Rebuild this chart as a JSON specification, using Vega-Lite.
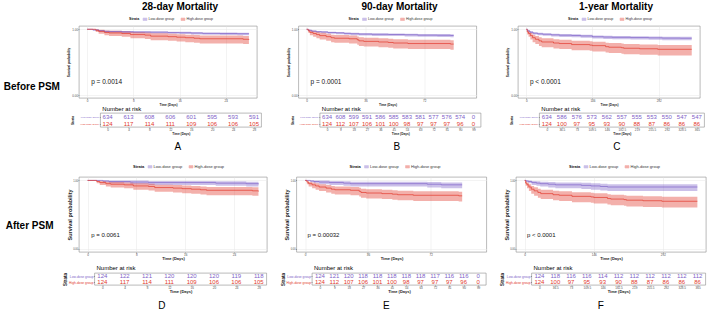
{
  "$schema": "https://vega.github.io/schema/vega-lite/v6.json",
  "background": "white",
  "padding": {"left": 3, "top": 1, "right": 0, "bottom": 0},
  "config": {
    "font": "Liberation Sans",
    "view": {"stroke": "#8c8c8c", "strokeWidth": 0.6},
    "axis": {
      "domain": false, "grid": true, "gridWidth": 0.5, "gridColor": "#e6e6e6",
      "tickColor": "#555555", "tickSize": 1, "tickWidth": 0.5,
      "labelFontSize": 3, "labelColor": "#4d4d4d", "labelPadding": 0.3,
      "labelOverlap": false, "labelFlush": false,
      "titleFontSize": 3.2, "titleFontWeight": "bold", "titlePadding": 0.3, "titleColor": "#222222"
    },
    "legend": {
      "orient": "none", "direction": "horizontal", "titleOrient": "left",
      "titleFontSize": 3.6, "labelFontSize": 3.6, "titleFontWeight": "bold",
      "symbolSize": 6, "symbolType": "M-1.6,-1H1.6V1H-1.6Z", "symbolStrokeWidth": 0.6,
      "columnPadding": 4, "labelOffset": 1.5, "titlePadding": 3, "padding": 0,
      "labelColor": "#333333", "titleColor": "#111111"
    },
    "title": {"font": "Liberation Sans", "color": "#000000"}
  },
  "datasets": {
    "kmA": [
      {"group": "Low-dose group", "t": 0, "surv": 1, "lo": 1, "hi": 1},
      {"group": "Low-dose group", "t": 1, "surv": 0.99, "lo": 0.981, "hi": 0.996},
      {"group": "Low-dose group", "t": 2, "surv": 0.978, "lo": 0.965, "hi": 0.987},
      {"group": "Low-dose group", "t": 3, "surv": 0.968, "lo": 0.952, "hi": 0.979},
      {"group": "Low-dose group", "t": 4, "surv": 0.965, "lo": 0.949, "hi": 0.976},
      {"group": "Low-dose group", "t": 6, "surv": 0.961, "lo": 0.944, "hi": 0.973},
      {"group": "Low-dose group", "t": 8, "surv": 0.958, "lo": 0.94, "hi": 0.97},
      {"group": "Low-dose group", "t": 11, "surv": 0.955, "lo": 0.936, "hi": 0.968},
      {"group": "Low-dose group", "t": 14, "surv": 0.95, "lo": 0.93, "hi": 0.964},
      {"group": "Low-dose group", "t": 16, "surv": 0.947, "lo": 0.927, "hi": 0.961},
      {"group": "Low-dose group", "t": 18, "surv": 0.942, "lo": 0.921, "hi": 0.957},
      {"group": "Low-dose group", "t": 20, "surv": 0.937, "lo": 0.915, "hi": 0.952},
      {"group": "Low-dose group", "t": 23, "surv": 0.935, "lo": 0.913, "hi": 0.95},
      {"group": "Low-dose group", "t": 26, "surv": 0.932, "lo": 0.909, "hi": 0.948},
      {"group": "Low-dose group", "t": 28, "surv": 0.93, "lo": 0.907, "hi": 0.946},
      {"group": "High-dose group", "t": 0, "surv": 1, "lo": 1, "hi": 1},
      {"group": "High-dose group", "t": 1.5, "surv": 0.984, "lo": 0.959, "hi": 1},
      {"group": "High-dose group", "t": 2, "surv": 0.968, "lo": 0.932, "hi": 0.993},
      {"group": "High-dose group", "t": 3, "surv": 0.952, "lo": 0.909, "hi": 0.982},
      {"group": "High-dose group", "t": 3.8, "surv": 0.944, "lo": 0.897, "hi": 0.976},
      {"group": "High-dose group", "t": 6, "surv": 0.935, "lo": 0.885, "hi": 0.97},
      {"group": "High-dose group", "t": 7.5, "surv": 0.919, "lo": 0.864, "hi": 0.957},
      {"group": "High-dose group", "t": 10, "surv": 0.911, "lo": 0.853, "hi": 0.951},
      {"group": "High-dose group", "t": 11, "surv": 0.895, "lo": 0.833, "hi": 0.938},
      {"group": "High-dose group", "t": 14, "surv": 0.887, "lo": 0.823, "hi": 0.932},
      {"group": "High-dose group", "t": 15.5, "surv": 0.879, "lo": 0.813, "hi": 0.925},
      {"group": "High-dose group", "t": 17, "surv": 0.871, "lo": 0.803, "hi": 0.918},
      {"group": "High-dose group", "t": 18.5, "surv": 0.863, "lo": 0.793, "hi": 0.911},
      {"group": "High-dose group", "t": 19.5, "surv": 0.855, "lo": 0.784, "hi": 0.905},
      {"group": "High-dose group", "t": 27, "surv": 0.847, "lo": 0.774, "hi": 0.898},
      {"group": "High-dose group", "t": 28, "surv": 0.839, "lo": 0.765, "hi": 0.891}
    ],
    "kmB": [
      {"group": "Low-dose group", "t": 0, "surv": 1, "lo": 1, "hi": 1},
      {"group": "Low-dose group", "t": 1, "surv": 0.985, "lo": 0.974, "hi": 0.993},
      {"group": "Low-dose group", "t": 3, "surv": 0.972, "lo": 0.957, "hi": 0.982},
      {"group": "Low-dose group", "t": 6, "surv": 0.963, "lo": 0.946, "hi": 0.975},
      {"group": "Low-dose group", "t": 9, "surv": 0.959, "lo": 0.941, "hi": 0.971},
      {"group": "Low-dose group", "t": 13, "surv": 0.95, "lo": 0.93, "hi": 0.964},
      {"group": "Low-dose group", "t": 18, "surv": 0.945, "lo": 0.925, "hi": 0.959},
      {"group": "Low-dose group", "t": 23, "surv": 0.937, "lo": 0.915, "hi": 0.952},
      {"group": "Low-dose group", "t": 27, "surv": 0.932, "lo": 0.909, "hi": 0.948},
      {"group": "Low-dose group", "t": 32, "surv": 0.926, "lo": 0.903, "hi": 0.942},
      {"group": "Low-dose group", "t": 40, "surv": 0.923, "lo": 0.899, "hi": 0.94},
      {"group": "Low-dose group", "t": 50, "surv": 0.92, "lo": 0.896, "hi": 0.937},
      {"group": "Low-dose group", "t": 60, "surv": 0.916, "lo": 0.891, "hi": 0.933},
      {"group": "Low-dose group", "t": 68, "surv": 0.91, "lo": 0.884, "hi": 0.928},
      {"group": "Low-dose group", "t": 80, "surv": 0.908, "lo": 0.882, "hi": 0.926},
      {"group": "Low-dose group", "t": 88, "surv": 0.905, "lo": 0.879, "hi": 0.923},
      {"group": "Low-dose group", "t": 90, "surv": 0.905, "lo": 0.879, "hi": 0.923},
      {"group": "High-dose group", "t": 0, "surv": 1, "lo": 1, "hi": 1},
      {"group": "High-dose group", "t": 1, "surv": 0.976, "lo": 0.945, "hi": 0.997},
      {"group": "High-dose group", "t": 2, "surv": 0.952, "lo": 0.909, "hi": 0.982},
      {"group": "High-dose group", "t": 4, "surv": 0.935, "lo": 0.885, "hi": 0.97},
      {"group": "High-dose group", "t": 6, "surv": 0.919, "lo": 0.864, "hi": 0.957},
      {"group": "High-dose group", "t": 8, "surv": 0.903, "lo": 0.843, "hi": 0.945},
      {"group": "High-dose group", "t": 12, "surv": 0.887, "lo": 0.823, "hi": 0.932},
      {"group": "High-dose group", "t": 15, "surv": 0.871, "lo": 0.803, "hi": 0.918},
      {"group": "High-dose group", "t": 17, "surv": 0.863, "lo": 0.793, "hi": 0.911},
      {"group": "High-dose group", "t": 26, "surv": 0.855, "lo": 0.784, "hi": 0.905},
      {"group": "High-dose group", "t": 31, "surv": 0.839, "lo": 0.765, "hi": 0.891},
      {"group": "High-dose group", "t": 32, "surv": 0.823, "lo": 0.746, "hi": 0.877},
      {"group": "High-dose group", "t": 35, "surv": 0.815, "lo": 0.736, "hi": 0.87},
      {"group": "High-dose group", "t": 44, "surv": 0.806, "lo": 0.726, "hi": 0.862},
      {"group": "High-dose group", "t": 50, "surv": 0.798, "lo": 0.717, "hi": 0.855},
      {"group": "High-dose group", "t": 53, "surv": 0.79, "lo": 0.708, "hi": 0.847},
      {"group": "High-dose group", "t": 62, "surv": 0.782, "lo": 0.698, "hi": 0.84},
      {"group": "High-dose group", "t": 88, "surv": 0.774, "lo": 0.689, "hi": 0.833},
      {"group": "High-dose group", "t": 90, "surv": 0.774, "lo": 0.689, "hi": 0.833}
    ],
    "kmC": [
      {"group": "Low-dose group", "t": 0, "surv": 1, "lo": 1, "hi": 1},
      {"group": "Low-dose group", "t": 3, "surv": 0.975, "lo": 0.961, "hi": 0.985},
      {"group": "Low-dose group", "t": 8, "surv": 0.955, "lo": 0.936, "hi": 0.968},
      {"group": "Low-dose group", "t": 15, "surv": 0.94, "lo": 0.919, "hi": 0.955},
      {"group": "Low-dose group", "t": 25, "surv": 0.93, "lo": 0.907, "hi": 0.946},
      {"group": "Low-dose group", "t": 36.5, "surv": 0.924, "lo": 0.9, "hi": 0.94},
      {"group": "Low-dose group", "t": 55, "surv": 0.915, "lo": 0.89, "hi": 0.932},
      {"group": "Low-dose group", "t": 73, "surv": 0.909, "lo": 0.883, "hi": 0.927},
      {"group": "Low-dose group", "t": 100, "surv": 0.905, "lo": 0.879, "hi": 0.923},
      {"group": "Low-dose group", "t": 120, "surv": 0.898, "lo": 0.871, "hi": 0.917},
      {"group": "Low-dose group", "t": 146, "surv": 0.886, "lo": 0.858, "hi": 0.906},
      {"group": "Low-dose group", "t": 170, "surv": 0.881, "lo": 0.852, "hi": 0.901},
      {"group": "Low-dose group", "t": 190, "surv": 0.877, "lo": 0.848, "hi": 0.897},
      {"group": "Low-dose group", "t": 230, "surv": 0.873, "lo": 0.843, "hi": 0.894},
      {"group": "Low-dose group", "t": 270, "surv": 0.869, "lo": 0.839, "hi": 0.89},
      {"group": "Low-dose group", "t": 300, "surv": 0.865, "lo": 0.834, "hi": 0.886},
      {"group": "Low-dose group", "t": 340, "surv": 0.863, "lo": 0.832, "hi": 0.884},
      {"group": "Low-dose group", "t": 365, "surv": 0.863, "lo": 0.832, "hi": 0.884},
      {"group": "High-dose group", "t": 0, "surv": 1, "lo": 1, "hi": 1},
      {"group": "High-dose group", "t": 2, "surv": 0.96, "lo": 0.92, "hi": 0.988},
      {"group": "High-dose group", "t": 5, "surv": 0.935, "lo": 0.885, "hi": 0.97},
      {"group": "High-dose group", "t": 9, "surv": 0.903, "lo": 0.843, "hi": 0.945},
      {"group": "High-dose group", "t": 14, "surv": 0.871, "lo": 0.803, "hi": 0.918},
      {"group": "High-dose group", "t": 20, "surv": 0.847, "lo": 0.774, "hi": 0.898},
      {"group": "High-dose group", "t": 28, "surv": 0.823, "lo": 0.746, "hi": 0.877},
      {"group": "High-dose group", "t": 34, "surv": 0.806, "lo": 0.726, "hi": 0.862},
      {"group": "High-dose group", "t": 60, "surv": 0.79, "lo": 0.708, "hi": 0.847},
      {"group": "High-dose group", "t": 73, "surv": 0.782, "lo": 0.698, "hi": 0.84},
      {"group": "High-dose group", "t": 100, "surv": 0.766, "lo": 0.68, "hi": 0.826},
      {"group": "High-dose group", "t": 140, "surv": 0.758, "lo": 0.671, "hi": 0.818},
      {"group": "High-dose group", "t": 146, "surv": 0.75, "lo": 0.662, "hi": 0.811},
      {"group": "High-dose group", "t": 175, "surv": 0.734, "lo": 0.645, "hi": 0.796},
      {"group": "High-dose group", "t": 182, "surv": 0.726, "lo": 0.636, "hi": 0.789},
      {"group": "High-dose group", "t": 210, "surv": 0.718, "lo": 0.627, "hi": 0.781},
      {"group": "High-dose group", "t": 215, "surv": 0.71, "lo": 0.618, "hi": 0.774},
      {"group": "High-dose group", "t": 250, "surv": 0.702, "lo": 0.609, "hi": 0.766},
      {"group": "High-dose group", "t": 290, "surv": 0.694, "lo": 0.601, "hi": 0.759},
      {"group": "High-dose group", "t": 365, "surv": 0.694, "lo": 0.601, "hi": 0.759}
    ],
    "kmD": [
      {"group": "Low-dose group", "t": 0, "surv": 1, "lo": 1, "hi": 1},
      {"group": "Low-dose group", "t": 2.5, "surv": 0.992, "lo": 0.974, "hi": 1},
      {"group": "Low-dose group", "t": 3.5, "surv": 0.984, "lo": 0.959, "hi": 1},
      {"group": "Low-dose group", "t": 7, "surv": 0.976, "lo": 0.945, "hi": 0.997},
      {"group": "Low-dose group", "t": 10, "surv": 0.968, "lo": 0.932, "hi": 0.993},
      {"group": "Low-dose group", "t": 21, "surv": 0.96, "lo": 0.92, "hi": 0.988},
      {"group": "Low-dose group", "t": 26, "surv": 0.952, "lo": 0.909, "hi": 0.982},
      {"group": "Low-dose group", "t": 28, "surv": 0.944, "lo": 0.897, "hi": 0.976},
      {"group": "High-dose group", "t": 0, "surv": 1, "lo": 1, "hi": 1},
      {"group": "High-dose group", "t": 1.5, "surv": 0.984, "lo": 0.959, "hi": 1},
      {"group": "High-dose group", "t": 2, "surv": 0.968, "lo": 0.932, "hi": 0.993},
      {"group": "High-dose group", "t": 3, "surv": 0.952, "lo": 0.909, "hi": 0.982},
      {"group": "High-dose group", "t": 3.8, "surv": 0.944, "lo": 0.897, "hi": 0.976},
      {"group": "High-dose group", "t": 6, "surv": 0.935, "lo": 0.885, "hi": 0.97},
      {"group": "High-dose group", "t": 7.5, "surv": 0.919, "lo": 0.864, "hi": 0.957},
      {"group": "High-dose group", "t": 10, "surv": 0.911, "lo": 0.853, "hi": 0.951},
      {"group": "High-dose group", "t": 11, "surv": 0.895, "lo": 0.833, "hi": 0.938},
      {"group": "High-dose group", "t": 14, "surv": 0.887, "lo": 0.823, "hi": 0.932},
      {"group": "High-dose group", "t": 15.5, "surv": 0.879, "lo": 0.813, "hi": 0.925},
      {"group": "High-dose group", "t": 17, "surv": 0.871, "lo": 0.803, "hi": 0.918},
      {"group": "High-dose group", "t": 18.5, "surv": 0.863, "lo": 0.793, "hi": 0.911},
      {"group": "High-dose group", "t": 19.5, "surv": 0.855, "lo": 0.784, "hi": 0.905},
      {"group": "High-dose group", "t": 27, "surv": 0.847, "lo": 0.774, "hi": 0.898},
      {"group": "High-dose group", "t": 28, "surv": 0.839, "lo": 0.765, "hi": 0.891}
    ],
    "kmE": [
      {"group": "Low-dose group", "t": 0, "surv": 1, "lo": 1, "hi": 1},
      {"group": "Low-dose group", "t": 3, "surv": 0.992, "lo": 0.974, "hi": 1},
      {"group": "Low-dose group", "t": 5, "surv": 0.984, "lo": 0.959, "hi": 1},
      {"group": "Low-dose group", "t": 8, "surv": 0.976, "lo": 0.945, "hi": 0.997},
      {"group": "Low-dose group", "t": 14, "surv": 0.968, "lo": 0.932, "hi": 0.993},
      {"group": "Low-dose group", "t": 22, "surv": 0.96, "lo": 0.92, "hi": 0.988},
      {"group": "Low-dose group", "t": 26, "surv": 0.952, "lo": 0.909, "hi": 0.982},
      {"group": "Low-dose group", "t": 70, "surv": 0.944, "lo": 0.897, "hi": 0.976},
      {"group": "Low-dose group", "t": 78, "surv": 0.935, "lo": 0.885, "hi": 0.97},
      {"group": "Low-dose group", "t": 90, "surv": 0.935, "lo": 0.885, "hi": 0.97},
      {"group": "High-dose group", "t": 0, "surv": 1, "lo": 1, "hi": 1},
      {"group": "High-dose group", "t": 1, "surv": 0.976, "lo": 0.945, "hi": 0.997},
      {"group": "High-dose group", "t": 2, "surv": 0.952, "lo": 0.909, "hi": 0.982},
      {"group": "High-dose group", "t": 4, "surv": 0.935, "lo": 0.885, "hi": 0.97},
      {"group": "High-dose group", "t": 6, "surv": 0.919, "lo": 0.864, "hi": 0.957},
      {"group": "High-dose group", "t": 8, "surv": 0.903, "lo": 0.843, "hi": 0.945},
      {"group": "High-dose group", "t": 12, "surv": 0.887, "lo": 0.823, "hi": 0.932},
      {"group": "High-dose group", "t": 15, "surv": 0.871, "lo": 0.803, "hi": 0.918},
      {"group": "High-dose group", "t": 17, "surv": 0.863, "lo": 0.793, "hi": 0.911},
      {"group": "High-dose group", "t": 26, "surv": 0.855, "lo": 0.784, "hi": 0.905},
      {"group": "High-dose group", "t": 31, "surv": 0.839, "lo": 0.765, "hi": 0.891},
      {"group": "High-dose group", "t": 32, "surv": 0.823, "lo": 0.746, "hi": 0.877},
      {"group": "High-dose group", "t": 35, "surv": 0.815, "lo": 0.736, "hi": 0.87},
      {"group": "High-dose group", "t": 44, "surv": 0.806, "lo": 0.726, "hi": 0.862},
      {"group": "High-dose group", "t": 50, "surv": 0.798, "lo": 0.717, "hi": 0.855},
      {"group": "High-dose group", "t": 53, "surv": 0.79, "lo": 0.708, "hi": 0.847},
      {"group": "High-dose group", "t": 62, "surv": 0.782, "lo": 0.698, "hi": 0.84},
      {"group": "High-dose group", "t": 88, "surv": 0.774, "lo": 0.689, "hi": 0.833},
      {"group": "High-dose group", "t": 90, "surv": 0.774, "lo": 0.689, "hi": 0.833}
    ],
    "kmF": [
      {"group": "Low-dose group", "t": 0, "surv": 1, "lo": 1, "hi": 1},
      {"group": "Low-dose group", "t": 3, "surv": 0.992, "lo": 0.974, "hi": 1},
      {"group": "Low-dose group", "t": 8, "surv": 0.984, "lo": 0.959, "hi": 1},
      {"group": "Low-dose group", "t": 15, "surv": 0.968, "lo": 0.932, "hi": 0.993},
      {"group": "Low-dose group", "t": 25, "surv": 0.96, "lo": 0.92, "hi": 0.988},
      {"group": "Low-dose group", "t": 33, "surv": 0.952, "lo": 0.909, "hi": 0.982},
      {"group": "Low-dose group", "t": 50, "surv": 0.944, "lo": 0.897, "hi": 0.976},
      {"group": "Low-dose group", "t": 65, "surv": 0.935, "lo": 0.885, "hi": 0.97},
      {"group": "Low-dose group", "t": 120, "surv": 0.927, "lo": 0.874, "hi": 0.964},
      {"group": "Low-dose group", "t": 140, "surv": 0.919, "lo": 0.864, "hi": 0.957},
      {"group": "Low-dose group", "t": 160, "surv": 0.911, "lo": 0.853, "hi": 0.951},
      {"group": "Low-dose group", "t": 175, "surv": 0.903, "lo": 0.843, "hi": 0.945},
      {"group": "Low-dose group", "t": 365, "surv": 0.903, "lo": 0.843, "hi": 0.945},
      {"group": "High-dose group", "t": 0, "surv": 1, "lo": 1, "hi": 1},
      {"group": "High-dose group", "t": 2, "surv": 0.96, "lo": 0.92, "hi": 0.988},
      {"group": "High-dose group", "t": 5, "surv": 0.935, "lo": 0.885, "hi": 0.97},
      {"group": "High-dose group", "t": 9, "surv": 0.903, "lo": 0.843, "hi": 0.945},
      {"group": "High-dose group", "t": 14, "surv": 0.871, "lo": 0.803, "hi": 0.918},
      {"group": "High-dose group", "t": 20, "surv": 0.847, "lo": 0.774, "hi": 0.898},
      {"group": "High-dose group", "t": 28, "surv": 0.823, "lo": 0.746, "hi": 0.877},
      {"group": "High-dose group", "t": 34, "surv": 0.806, "lo": 0.726, "hi": 0.862},
      {"group": "High-dose group", "t": 60, "surv": 0.79, "lo": 0.708, "hi": 0.847},
      {"group": "High-dose group", "t": 73, "surv": 0.782, "lo": 0.698, "hi": 0.84},
      {"group": "High-dose group", "t": 100, "surv": 0.766, "lo": 0.68, "hi": 0.826},
      {"group": "High-dose group", "t": 140, "surv": 0.758, "lo": 0.671, "hi": 0.818},
      {"group": "High-dose group", "t": 146, "surv": 0.75, "lo": 0.662, "hi": 0.811},
      {"group": "High-dose group", "t": 175, "surv": 0.734, "lo": 0.645, "hi": 0.796},
      {"group": "High-dose group", "t": 182, "surv": 0.726, "lo": 0.636, "hi": 0.789},
      {"group": "High-dose group", "t": 210, "surv": 0.718, "lo": 0.627, "hi": 0.781},
      {"group": "High-dose group", "t": 215, "surv": 0.71, "lo": 0.618, "hi": 0.774},
      {"group": "High-dose group", "t": 250, "surv": 0.702, "lo": 0.609, "hi": 0.766},
      {"group": "High-dose group", "t": 290, "surv": 0.694, "lo": 0.601, "hi": 0.759},
      {"group": "High-dose group", "t": 365, "surv": 0.694, "lo": 0.601, "hi": 0.759}
    ],
    "riskA": [
      {"t": 0, "Low-dose group": 634, "High-dose group": 124},
      {"t": 4, "Low-dose group": 613, "High-dose group": 117},
      {"t": 8, "Low-dose group": 608, "High-dose group": 114},
      {"t": 12, "Low-dose group": 606, "High-dose group": 111},
      {"t": 16, "Low-dose group": 601, "High-dose group": 109},
      {"t": 20, "Low-dose group": 595, "High-dose group": 106},
      {"t": 24, "Low-dose group": 593, "High-dose group": 106},
      {"t": 28, "Low-dose group": 591, "High-dose group": 105}
    ],
    "riskB": [
      {"t": 0, "Low-dose group": 634, "High-dose group": 124},
      {"t": 9, "Low-dose group": 608, "High-dose group": 112},
      {"t": 18, "Low-dose group": 599, "High-dose group": 107},
      {"t": 27, "Low-dose group": 591, "High-dose group": 106},
      {"t": 36, "Low-dose group": 586, "High-dose group": 101},
      {"t": 45, "Low-dose group": 585, "High-dose group": 100},
      {"t": 54, "Low-dose group": 583, "High-dose group": 98},
      {"t": 63, "Low-dose group": 581, "High-dose group": 97},
      {"t": 72, "Low-dose group": 577, "High-dose group": 97},
      {"t": 81, "Low-dose group": 576, "High-dose group": 97},
      {"t": 90, "Low-dose group": 574, "High-dose group": 96},
      {"t": 99, "Low-dose group": 0, "High-dose group": 0}
    ],
    "riskC": [
      {"t": 0, "Low-dose group": 634, "High-dose group": 124},
      {"t": 36.5, "Low-dose group": 586, "High-dose group": 100},
      {"t": 73, "Low-dose group": 576, "High-dose group": 97},
      {"t": 109.5, "Low-dose group": 573, "High-dose group": 95},
      {"t": 146, "Low-dose group": 562, "High-dose group": 93},
      {"t": 182.5, "Low-dose group": 557, "High-dose group": 90},
      {"t": 219, "Low-dose group": 555, "High-dose group": 88},
      {"t": 255.5, "Low-dose group": 553, "High-dose group": 87},
      {"t": 292, "Low-dose group": 550, "High-dose group": 86},
      {"t": 328.5, "Low-dose group": 547, "High-dose group": 86},
      {"t": 365, "Low-dose group": 547, "High-dose group": 86}
    ],
    "riskD": [
      {"t": 0, "Low-dose group": 124, "High-dose group": 124},
      {"t": 4, "Low-dose group": 122, "High-dose group": 117},
      {"t": 8, "Low-dose group": 121, "High-dose group": 114},
      {"t": 12, "Low-dose group": 120, "High-dose group": 111},
      {"t": 16, "Low-dose group": 120, "High-dose group": 109},
      {"t": 20, "Low-dose group": 120, "High-dose group": 106},
      {"t": 24, "Low-dose group": 119, "High-dose group": 106},
      {"t": 28, "Low-dose group": 118, "High-dose group": 105}
    ],
    "riskE": [
      {"t": 0, "Low-dose group": 124, "High-dose group": 124},
      {"t": 9, "Low-dose group": 121, "High-dose group": 112},
      {"t": 18, "Low-dose group": 120, "High-dose group": 107},
      {"t": 27, "Low-dose group": 118, "High-dose group": 106},
      {"t": 36, "Low-dose group": 118, "High-dose group": 101},
      {"t": 45, "Low-dose group": 118, "High-dose group": 100},
      {"t": 54, "Low-dose group": 118, "High-dose group": 98},
      {"t": 63, "Low-dose group": 118, "High-dose group": 97},
      {"t": 72, "Low-dose group": 117, "High-dose group": 97},
      {"t": 81, "Low-dose group": 116, "High-dose group": 97},
      {"t": 90, "Low-dose group": 116, "High-dose group": 96},
      {"t": 99, "Low-dose group": 0, "High-dose group": 0}
    ],
    "riskF": [
      {"t": 0, "Low-dose group": 124, "High-dose group": 124},
      {"t": 36.5, "Low-dose group": 118, "High-dose group": 100},
      {"t": 73, "Low-dose group": 116, "High-dose group": 97},
      {"t": 109.5, "Low-dose group": 116, "High-dose group": 95},
      {"t": 146, "Low-dose group": 114, "High-dose group": 93},
      {"t": 182.5, "Low-dose group": 112, "High-dose group": 90},
      {"t": 219, "Low-dose group": 112, "High-dose group": 88},
      {"t": 255.5, "Low-dose group": 112, "High-dose group": 87},
      {"t": 292, "Low-dose group": 112, "High-dose group": 86},
      {"t": 328.5, "Low-dose group": 112, "High-dose group": 86},
      {"t": 365, "Low-dose group": 112, "High-dose group": 86}
    ]
  },
  "spacing": 11,
  "resolve": {"scale": {"color": "independent"}, "legend": {"color": "independent"}},
  "vconcat": [
    {
      "title": {"text": "Before PSM", "orient": "left", "angle": 0, "align": "left", "baseline": "middle", "anchor": "middle", "fontSize": 10, "fontWeight": "bold", "offset": 6.3, "dy": 10},
      "spacing": 23.5,
      "resolve": {"scale": {"color": "independent"}, "legend": {"color": "independent"}},
      "hconcat": [
        {
          "title": {"text": "A", "orient": "bottom", "anchor": "middle", "fontSize": 10, "fontWeight": "normal", "offset": 7, "dx": 14},
          "spacing": -2,
          "resolve": {"scale": {"color": "independent"}, "legend": {"color": "independent"}},
          "vconcat": [
            {
              "width": 178, "height": 72,
              "title": {"text": "28-day Mortality", "fontSize": 10, "fontWeight": "bold", "offset": 5, "frame": "group", "dx": 12},
              "data": {"name": "kmA"},
              "layer": [
                {
                  "mark": {"type": "area", "interpolate": "step-after", "opacity": 0.4},
                  "encoding": {
                    "x": {"field": "t", "type": "quantitative", "scale": {"domain": [-1.4, 29.4], "nice": false, "zero": false},
                          "axis": {"title": "Time (Days)", "values": [0, 2, 4, 6, 8, 10, 12, 14, 16, 18, 20, 22, 24, 26, 28],
                                   "labelExpr": "datum.value % 4 ? '' : format(datum.value, '~g')",
                                   "tickOpacity": {"condition": {"test": "datum.value % 4", "value": 0}, "value": 1},
                                   "gridColor": {"condition": {"test": "datum.value % 4", "value": "#f4f4f4"}, "value": "#e6e6e6"}}},
                    "y": {"field": "lo", "type": "quantitative", "scale": {"domain": [-0.05, 1.05], "nice": false, "zero": false},
                          "axis": {"title": "Survival probability", "minExtent": 8, "maxExtent": 8, "titlePadding": 0.5,
                                   "values": [0, 0.125, 0.25, 0.375, 0.5, 0.625, 0.75, 0.875, 1],
                                   "labelExpr": "datum.value % 0.25 ? '' : format(datum.value, '.2f')",
                                   "tickOpacity": {"condition": {"test": "datum.value % 0.25", "value": 0}, "value": 1},
                                   "gridColor": {"condition": {"test": "datum.value % 0.25", "value": "#f4f4f4"}, "value": "#e6e6e6"}}},
                    "y2": {"field": "hi"},
                    "color": {"field": "group", "type": "nominal",
                              "scale": {"domain": ["Low-dose group", "High-dose group"], "range": ["#7E62C8", "#E2392D"]},
                              "legend": {"title": "Strata", "legendX": 50, "legendY": -9}}
                  }
                },
                {
                  "mark": {"type": "line", "interpolate": "step-after", "strokeWidth": 0.7},
                  "encoding": {
                    "x": {"field": "t", "type": "quantitative"},
                    "y": {"field": "surv", "type": "quantitative"},
                    "color": {"field": "group", "type": "nominal"}
                  }
                },
                {
                  "data": {"values": [{"t": 0.7, "surv": 0.2, "label": "p = 0.0014"}]},
                  "mark": {"type": "text", "align": "left", "baseline": "middle", "fontSize": 6.5, "color": "#111111"},
                  "encoding": {
                    "x": {"field": "t", "type": "quantitative"},
                    "y": {"field": "surv", "type": "quantitative"},
                    "text": {"field": "label"}
                  }
                }
              ]
            },
            {
              "spacing": -9.7,
              "hconcat": [
                {"width": 1, "height": 14, "view": {"stroke": null}, "data": {"values": []}, "mark": "point", "encoding": {}},
                {
                  "width": 161, "height": 14,
                  "title": {"text": "Number at risk", "anchor": "start", "frame": "group", "fontSize": 6, "fontWeight": "normal", "offset": 1, "dx": 2},
                  "data": {"name": "riskA"},
                  "transform": [{"fold": ["Low-dose group", "High-dose group"], "as": ["group", "n"]}],
                  "mark": {"type": "text", "fontSize": 6},
                  "encoding": {
                    "x": {"field": "t", "type": "quantitative", "scale": {"domain": [-1.4, 29.4], "nice": false, "zero": false},
                          "axis": {"title": "Time (Days)", "grid": false, "values": [0, 4, 8, 12, 16, 20, 24, 28], "labelExpr": "format(datum.value, '~g')"}},
                    "y": {"field": "group", "type": "nominal", "sort": ["Low-dose group", "High-dose group"],
                          "axis": {"title": "Strata", "grid": false, "labelFontSize": 2.5, "labelPadding": 1, "titlePadding": 1.5, "minExtent": 24, "maxExtent": 24,
                                   "labelColor": {"condition": {"test": "datum.value === 'Low-dose group'", "value": "#7E62C8"}, "value": "#E2392D"}}},
                    "text": {"field": "n", "type": "quantitative"},
                    "color": {"field": "group", "type": "nominal", "legend": null,
                              "scale": {"domain": ["Low-dose group", "High-dose group"], "range": ["#7E62C8", "#E2392D"]}}
                  }
                }
              ]
            }
          ]
        },
        {
          "title": {"text": "B", "orient": "bottom", "anchor": "middle", "fontSize": 10, "fontWeight": "normal", "offset": 7, "dx": 13.5},
          "spacing": -2,
          "resolve": {"scale": {"color": "independent"}, "legend": {"color": "independent"}},
          "vconcat": [
            {
              "width": 178, "height": 72,
              "title": {"text": "90-day Mortality", "fontSize": 10, "fontWeight": "bold", "offset": 5, "frame": "group", "dx": 12},
              "data": {"name": "kmB"},
              "layer": [
                {
                  "mark": {"type": "area", "interpolate": "step-after", "opacity": 0.4},
                  "encoding": {
                    "x": {"field": "t", "type": "quantitative", "scale": {"domain": [-4.95, 103.95], "nice": false, "zero": false},
                          "axis": {"title": "Time (Days)", "values": [0, 4.5, 9, 13.5, 18, 22.5, 27, 31.5, 36, 40.5, 45, 49.5, 54, 58.5, 63, 67.5, 72, 76.5, 81, 85.5, 90, 94.5, 99],
                                   "labelExpr": "datum.value % 9 ? '' : format(datum.value, '~g')",
                                   "tickOpacity": {"condition": {"test": "datum.value % 9", "value": 0}, "value": 1},
                                   "gridColor": {"condition": {"test": "datum.value % 9", "value": "#f4f4f4"}, "value": "#e6e6e6"}}},
                    "y": {"field": "lo", "type": "quantitative", "scale": {"domain": [-0.05, 1.05], "nice": false, "zero": false},
                          "axis": {"title": "Survival probability", "minExtent": 8, "maxExtent": 8, "titlePadding": 0.5,
                                   "values": [0, 0.125, 0.25, 0.375, 0.5, 0.625, 0.75, 0.875, 1],
                                   "labelExpr": "datum.value % 0.25 ? '' : format(datum.value, '.2f')",
                                   "tickOpacity": {"condition": {"test": "datum.value % 0.25", "value": 0}, "value": 1},
                                   "gridColor": {"condition": {"test": "datum.value % 0.25", "value": "#f4f4f4"}, "value": "#e6e6e6"}}},
                    "y2": {"field": "hi"},
                    "color": {"field": "group", "type": "nominal",
                              "scale": {"domain": ["Low-dose group", "High-dose group"], "range": ["#7E62C8", "#E2392D"]},
                              "legend": {"title": "Strata", "legendX": 50, "legendY": -9}}
                  }
                },
                {
                  "mark": {"type": "line", "interpolate": "step-after", "strokeWidth": 0.7},
                  "encoding": {
                    "x": {"field": "t", "type": "quantitative"},
                    "y": {"field": "surv", "type": "quantitative"},
                    "color": {"field": "group", "type": "nominal"}
                  }
                },
                {
                  "data": {"values": [{"t": 2.4, "surv": 0.2, "label": "p = 0.0001"}]},
                  "mark": {"type": "text", "align": "left", "baseline": "middle", "fontSize": 6.5, "color": "#111111"},
                  "encoding": {
                    "x": {"field": "t", "type": "quantitative"},
                    "y": {"field": "surv", "type": "quantitative"},
                    "text": {"field": "label"}
                  }
                }
              ]
            },
            {
              "spacing": -9.7,
              "hconcat": [
                {"width": 1, "height": 14, "view": {"stroke": null}, "data": {"values": []}, "mark": "point", "encoding": {}},
                {
                  "width": 161, "height": 14,
                  "title": {"text": "Number at risk", "anchor": "start", "frame": "group", "fontSize": 6, "fontWeight": "normal", "offset": 1, "dx": 2},
                  "data": {"name": "riskB"},
                  "transform": [{"fold": ["Low-dose group", "High-dose group"], "as": ["group", "n"]}],
                  "mark": {"type": "text", "fontSize": 6},
                  "encoding": {
                    "x": {"field": "t", "type": "quantitative", "scale": {"domain": [-4.95, 103.95], "nice": false, "zero": false},
                          "axis": {"title": "Time (Days)", "grid": false, "values": [0, 9, 18, 27, 36, 45, 54, 63, 72, 81, 90, 99], "labelExpr": "format(datum.value, '~g')"}},
                    "y": {"field": "group", "type": "nominal", "sort": ["Low-dose group", "High-dose group"],
                          "axis": {"title": "Strata", "grid": false, "labelFontSize": 2.5, "labelPadding": 1, "titlePadding": 1.5, "minExtent": 24, "maxExtent": 24,
                                   "labelColor": {"condition": {"test": "datum.value === 'Low-dose group'", "value": "#7E62C8"}, "value": "#E2392D"}}},
                    "text": {"field": "n", "type": "quantitative"},
                    "color": {"field": "group", "type": "nominal", "legend": null,
                              "scale": {"domain": ["Low-dose group", "High-dose group"], "range": ["#7E62C8", "#E2392D"]}}
                  }
                }
              ]
            }
          ]
        },
        {
          "title": {"text": "C", "orient": "bottom", "anchor": "middle", "fontSize": 10, "fontWeight": "normal", "offset": 7, "dx": 12},
          "spacing": -2,
          "resolve": {"scale": {"color": "independent"}, "legend": {"color": "independent"}},
          "vconcat": [
            {
              "width": 182, "height": 72,
              "title": {"text": "1-year Mortality", "fontSize": 10, "fontWeight": "bold", "offset": 5, "frame": "group", "dx": 7},
              "data": {"name": "kmC"},
              "layer": [
                {
                  "mark": {"type": "area", "interpolate": "step-after", "opacity": 0.4},
                  "encoding": {
                    "x": {"field": "t", "type": "quantitative", "scale": {"domain": [-18.25, 383.25], "nice": false, "zero": false},
                          "axis": {"title": "Time (Days)", "values": [0, 18.25, 36.5, 54.75, 73, 91.25, 109.5, 127.75, 146, 164.25, 182.5, 200.75, 219, 237.25, 255.5, 273.75, 292, 310.25, 328.5, 346.75, 365],
                                   "labelExpr": "datum.value % 36.5 ? '' : format(datum.value, '~g')",
                                   "tickOpacity": {"condition": {"test": "datum.value % 36.5", "value": 0}, "value": 1},
                                   "gridColor": {"condition": {"test": "datum.value % 36.5", "value": "#f4f4f4"}, "value": "#e6e6e6"}}},
                    "y": {"field": "lo", "type": "quantitative", "scale": {"domain": [-0.05, 1.05], "nice": false, "zero": false},
                          "axis": {"title": "Survival probability", "minExtent": 8, "maxExtent": 8, "titlePadding": 0.5,
                                   "values": [0, 0.125, 0.25, 0.375, 0.5, 0.625, 0.75, 0.875, 1],
                                   "labelExpr": "datum.value % 0.25 ? '' : format(datum.value, '.2f')",
                                   "tickOpacity": {"condition": {"test": "datum.value % 0.25", "value": 0}, "value": 1},
                                   "gridColor": {"condition": {"test": "datum.value % 0.25", "value": "#f4f4f4"}, "value": "#e6e6e6"}}},
                    "y2": {"field": "hi"},
                    "color": {"field": "group", "type": "nominal",
                              "scale": {"domain": ["Low-dose group", "High-dose group"], "range": ["#7E62C8", "#E2392D"]},
                              "legend": {"title": "Strata", "legendX": 50, "legendY": -9}}
                  }
                },
                {
                  "mark": {"type": "line", "interpolate": "step-after", "strokeWidth": 0.7},
                  "encoding": {
                    "x": {"field": "t", "type": "quantitative"},
                    "y": {"field": "surv", "type": "quantitative"},
                    "color": {"field": "group", "type": "nominal"}
                  }
                },
                {
                  "data": {"values": [{"t": 8, "surv": 0.2, "label": "p < 0.0001"}]},
                  "mark": {"type": "text", "align": "left", "baseline": "middle", "fontSize": 6.5, "color": "#111111"},
                  "encoding": {
                    "x": {"field": "t", "type": "quantitative"},
                    "y": {"field": "surv", "type": "quantitative"},
                    "text": {"field": "label"}
                  }
                }
              ]
            },
            {
              "spacing": -9.7,
              "hconcat": [
                {"width": 1, "height": 14, "view": {"stroke": null}, "data": {"values": []}, "mark": "point", "encoding": {}},
                {
                  "width": 165, "height": 14,
                  "title": {"text": "Number at risk", "anchor": "start", "frame": "group", "fontSize": 6, "fontWeight": "normal", "offset": 1, "dx": 2},
                  "data": {"name": "riskC"},
                  "transform": [{"fold": ["Low-dose group", "High-dose group"], "as": ["group", "n"]}],
                  "mark": {"type": "text", "fontSize": 6},
                  "encoding": {
                    "x": {"field": "t", "type": "quantitative", "scale": {"domain": [-18.25, 383.25], "nice": false, "zero": false},
                          "axis": {"title": "Time (Days)", "grid": false, "values": [0, 36.5, 73, 109.5, 146, 182.5, 219, 255.5, 292, 328.5, 365], "labelExpr": "format(datum.value, '~g')"}},
                    "y": {"field": "group", "type": "nominal", "sort": ["Low-dose group", "High-dose group"],
                          "axis": {"title": "Strata", "grid": false, "labelFontSize": 2.5, "labelPadding": 1, "titlePadding": 1.5, "minExtent": 24, "maxExtent": 24,
                                   "labelColor": {"condition": {"test": "datum.value === 'Low-dose group'", "value": "#7E62C8"}, "value": "#E2392D"}}},
                    "text": {"field": "n", "type": "quantitative"},
                    "color": {"field": "group", "type": "nominal", "legend": null,
                              "scale": {"domain": ["Low-dose group", "High-dose group"], "range": ["#7E62C8", "#E2392D"]}}
                  }
                }
              ]
            }
          ]
        }
      ]
    },
    {
      "title": {"text": "After PSM", "orient": "left", "angle": 0, "align": "left", "baseline": "middle", "anchor": "middle", "fontSize": 10, "fontWeight": "bold", "offset": 8.7, "dy": -12},
      "spacing": 11.5,
      "resolve": {"scale": {"color": "independent"}, "legend": {"color": "independent"}},
      "hconcat": [
        {
          "title": {"text": "D", "orient": "bottom", "anchor": "middle", "fontSize": 10, "fontWeight": "normal", "offset": 7, "dx": -3},
          "spacing": 3,
          "resolve": {"scale": {"color": "independent"}, "legend": {"color": "independent"}},
          "vconcat": [
            {
              "width": 188, "height": 75,
              "data": {"name": "kmD"},
              "layer": [
                {
                  "mark": {"type": "area", "interpolate": "step-after", "opacity": 0.4},
                  "encoding": {
                    "x": {"field": "t", "type": "quantitative", "scale": {"domain": [-1.4, 29.4], "nice": false, "zero": false},
                          "axis": {"title": "Time (Days)", "titleFontSize": 4, "values": [0, 2, 4, 6, 8, 10, 12, 14, 16, 18, 20, 22, 24, 26, 28],
                                   "labelExpr": "datum.value % 4 ? '' : format(datum.value, '~g')",
                                   "tickOpacity": {"condition": {"test": "datum.value % 4", "value": 0}, "value": 1},
                                   "gridColor": {"condition": {"test": "datum.value % 4", "value": "#f4f4f4"}, "value": "#e6e6e6"}}},
                    "y": {"field": "lo", "type": "quantitative", "scale": {"domain": [-0.05, 1.05], "nice": false, "zero": false},
                          "axis": {"title": "Survival probability", "titleFontSize": 5.5, "labelFontSize": 2.6, "minExtent": 6.5, "maxExtent": 6.5, "titlePadding": 0.3,
                                   "values": [0, 0.125, 0.25, 0.375, 0.5, 0.625, 0.75, 0.875, 1],
                                   "labelExpr": "datum.value % 0.25 ? '' : format(datum.value, '.2f')",
                                   "tickOpacity": {"condition": {"test": "datum.value % 0.25", "value": 0}, "value": 1},
                                   "gridColor": {"condition": {"test": "datum.value % 0.25", "value": "#f4f4f4"}, "value": "#e6e6e6"}}},
                    "y2": {"field": "hi"},
                    "color": {"field": "group", "type": "nominal",
                              "scale": {"domain": ["Low-dose group", "High-dose group"], "range": ["#7E62C8", "#E2392D"]},
                              "legend": {"title": "Strata", "legendX": 54, "legendY": -12.5, "labelFontSize": 4, "titleFontSize": 4}}
                  }
                },
                {
                  "mark": {"type": "line", "interpolate": "step-after", "strokeWidth": 0.7},
                  "encoding": {
                    "x": {"field": "t", "type": "quantitative"},
                    "y": {"field": "surv", "type": "quantitative"},
                    "color": {"field": "group", "type": "nominal"}
                  }
                },
                {
                  "data": {"values": [{"t": 0.6, "surv": 0.2, "label": "p = 0.0061"}]},
                  "mark": {"type": "text", "align": "left", "baseline": "middle", "fontSize": 6, "color": "#111111"},
                  "encoding": {
                    "x": {"field": "t", "type": "quantitative"},
                    "y": {"field": "surv", "type": "quantitative"},
                    "text": {"field": "label"}
                  }
                }
              ]
            },
            {
              "spacing": -18.5,
              "hconcat": [
                {"width": 1, "height": 12, "view": {"stroke": null}, "data": {"values": []}, "mark": "point", "encoding": {}},
                {
                  "width": 172, "height": 12,
                  "title": {"text": "Number at risk", "anchor": "start", "frame": "group", "fontSize": 6, "fontWeight": "normal", "offset": 1.5, "dx": 2},
                  "data": {"name": "riskD"},
                  "transform": [{"fold": ["Low-dose group", "High-dose group"], "as": ["group", "n"]}],
                  "mark": {"type": "text", "fontSize": 6},
                  "encoding": {
                    "x": {"field": "t", "type": "quantitative", "scale": {"domain": [-1.4, 29.4], "nice": false, "zero": false},
                          "axis": {"title": "Time (Days)", "titleFontSize": 4, "grid": false, "values": [0, 4, 8, 12, 16, 20, 24, 28], "labelExpr": "format(datum.value, '~g')"}},
                    "y": {"field": "group", "type": "nominal", "sort": ["Low-dose group", "High-dose group"],
                          "axis": {"title": "Strata", "titleFontSize": 4.5, "grid": false, "labelFontSize": 3.3, "labelPadding": 0.5, "titlePadding": 1, "minExtent": 26, "maxExtent": 26,
                                   "labelColor": {"condition": {"test": "datum.value === 'Low-dose group'", "value": "#7E62C8"}, "value": "#E2392D"}}},
                    "text": {"field": "n", "type": "quantitative"},
                    "color": {"field": "group", "type": "nominal", "legend": null,
                              "scale": {"domain": ["Low-dose group", "High-dose group"], "range": ["#7E62C8", "#E2392D"]}}
                  }
                }
              ]
            }
          ]
        },
        {
          "title": {"text": "E", "orient": "bottom", "anchor": "middle", "fontSize": 10, "fontWeight": "normal", "offset": 7, "dx": 3},
          "spacing": 3,
          "resolve": {"scale": {"color": "independent"}, "legend": {"color": "independent"}},
          "vconcat": [
            {
              "width": 190, "height": 75,
              "data": {"name": "kmE"},
              "layer": [
                {
                  "mark": {"type": "area", "interpolate": "step-after", "opacity": 0.4},
                  "encoding": {
                    "x": {"field": "t", "type": "quantitative", "scale": {"domain": [-4.95, 103.95], "nice": false, "zero": false},
                          "axis": {"title": "Time (Days)", "titleFontSize": 4, "values": [0, 4.5, 9, 13.5, 18, 22.5, 27, 31.5, 36, 40.5, 45, 49.5, 54, 58.5, 63, 67.5, 72, 76.5, 81, 85.5, 90, 94.5, 99],
                                   "labelExpr": "datum.value % 9 ? '' : format(datum.value, '~g')",
                                   "tickOpacity": {"condition": {"test": "datum.value % 9", "value": 0}, "value": 1},
                                   "gridColor": {"condition": {"test": "datum.value % 9", "value": "#f4f4f4"}, "value": "#e6e6e6"}}},
                    "y": {"field": "lo", "type": "quantitative", "scale": {"domain": [-0.05, 1.05], "nice": false, "zero": false},
                          "axis": {"title": "Survival probability", "titleFontSize": 5.5, "labelFontSize": 2.6, "minExtent": 6.5, "maxExtent": 6.5, "titlePadding": 0.3,
                                   "values": [0, 0.125, 0.25, 0.375, 0.5, 0.625, 0.75, 0.875, 1],
                                   "labelExpr": "datum.value % 0.25 ? '' : format(datum.value, '.2f')",
                                   "tickOpacity": {"condition": {"test": "datum.value % 0.25", "value": 0}, "value": 1},
                                   "gridColor": {"condition": {"test": "datum.value % 0.25", "value": "#f4f4f4"}, "value": "#e6e6e6"}}},
                    "y2": {"field": "hi"},
                    "color": {"field": "group", "type": "nominal",
                              "scale": {"domain": ["Low-dose group", "High-dose group"], "range": ["#7E62C8", "#E2392D"]},
                              "legend": {"title": "Strata", "legendX": 53, "legendY": -12.5, "labelFontSize": 4, "titleFontSize": 4}}
                  }
                },
                {
                  "mark": {"type": "line", "interpolate": "step-after", "strokeWidth": 0.7},
                  "encoding": {
                    "x": {"field": "t", "type": "quantitative"},
                    "y": {"field": "surv", "type": "quantitative"},
                    "color": {"field": "group", "type": "nominal"}
                  }
                },
                {
                  "data": {"values": [{"t": 1.4, "surv": 0.2, "label": "p = 0.00032"}]},
                  "mark": {"type": "text", "align": "left", "baseline": "middle", "fontSize": 6, "color": "#111111"},
                  "encoding": {
                    "x": {"field": "t", "type": "quantitative"},
                    "y": {"field": "surv", "type": "quantitative"},
                    "text": {"field": "label"}
                  }
                }
              ]
            },
            {
              "spacing": -18.5,
              "hconcat": [
                {"width": 1, "height": 12, "view": {"stroke": null}, "data": {"values": []}, "mark": "point", "encoding": {}},
                {
                  "width": 174, "height": 12,
                  "title": {"text": "Number at risk", "anchor": "start", "frame": "group", "fontSize": 6, "fontWeight": "normal", "offset": 1.5, "dx": 2},
                  "data": {"name": "riskE"},
                  "transform": [{"fold": ["Low-dose group", "High-dose group"], "as": ["group", "n"]}],
                  "mark": {"type": "text", "fontSize": 6},
                  "encoding": {
                    "x": {"field": "t", "type": "quantitative", "scale": {"domain": [-4.95, 103.95], "nice": false, "zero": false},
                          "axis": {"title": "Time (Days)", "titleFontSize": 4, "grid": false, "values": [0, 9, 18, 27, 36, 45, 54, 63, 72, 81, 90, 99], "labelExpr": "format(datum.value, '~g')"}},
                    "y": {"field": "group", "type": "nominal", "sort": ["Low-dose group", "High-dose group"],
                          "axis": {"title": "Strata", "titleFontSize": 4.5, "grid": false, "labelFontSize": 3.3, "labelPadding": 0.5, "titlePadding": 1, "minExtent": 26, "maxExtent": 26,
                                   "labelColor": {"condition": {"test": "datum.value === 'Low-dose group'", "value": "#7E62C8"}, "value": "#E2392D"}}},
                    "text": {"field": "n", "type": "quantitative"},
                    "color": {"field": "group", "type": "nominal", "legend": null,
                              "scale": {"domain": ["Low-dose group", "High-dose group"], "range": ["#7E62C8", "#E2392D"]}}
                  }
                }
              ]
            }
          ]
        },
        {
          "title": {"text": "F", "orient": "bottom", "anchor": "middle", "fontSize": 10, "fontWeight": "normal", "offset": 7, "dx": -2},
          "spacing": 3,
          "resolve": {"scale": {"color": "independent"}, "legend": {"color": "independent"}},
          "vconcat": [
            {
              "width": 190, "height": 75,
              "data": {"name": "kmF"},
              "layer": [
                {
                  "mark": {"type": "area", "interpolate": "step-after", "opacity": 0.4},
                  "encoding": {
                    "x": {"field": "t", "type": "quantitative", "scale": {"domain": [-18.25, 383.25], "nice": false, "zero": false},
                          "axis": {"title": "Time (Days)", "titleFontSize": 4, "values": [0, 18.25, 36.5, 54.75, 73, 91.25, 109.5, 127.75, 146, 164.25, 182.5, 200.75, 219, 237.25, 255.5, 273.75, 292, 310.25, 328.5, 346.75, 365],
                                   "labelExpr": "datum.value % 36.5 ? '' : format(datum.value, '~g')",
                                   "tickOpacity": {"condition": {"test": "datum.value % 36.5", "value": 0}, "value": 1},
                                   "gridColor": {"condition": {"test": "datum.value % 36.5", "value": "#f4f4f4"}, "value": "#e6e6e6"}}},
                    "y": {"field": "lo", "type": "quantitative", "scale": {"domain": [-0.05, 1.05], "nice": false, "zero": false},
                          "axis": {"title": "Survival probability", "titleFontSize": 5.5, "labelFontSize": 2.6, "minExtent": 6.5, "maxExtent": 6.5, "titlePadding": 0.3,
                                   "values": [0, 0.125, 0.25, 0.375, 0.5, 0.625, 0.75, 0.875, 1],
                                   "labelExpr": "datum.value % 0.25 ? '' : format(datum.value, '.2f')",
                                   "tickOpacity": {"condition": {"test": "datum.value % 0.25", "value": 0}, "value": 1},
                                   "gridColor": {"condition": {"test": "datum.value % 0.25", "value": "#f4f4f4"}, "value": "#e6e6e6"}}},
                    "y2": {"field": "hi"},
                    "color": {"field": "group", "type": "nominal",
                              "scale": {"domain": ["Low-dose group", "High-dose group"], "range": ["#7E62C8", "#E2392D"]},
                              "legend": {"title": "Strata", "legendX": 53, "legendY": -12.5, "labelFontSize": 4, "titleFontSize": 4}}
                  }
                },
                {
                  "mark": {"type": "line", "interpolate": "step-after", "strokeWidth": 0.7},
                  "encoding": {
                    "x": {"field": "t", "type": "quantitative"},
                    "y": {"field": "surv", "type": "quantitative"},
                    "color": {"field": "group", "type": "nominal"}
                  }
                },
                {
                  "data": {"values": [{"t": 5, "surv": 0.2, "label": "p < 0.0001"}]},
                  "mark": {"type": "text", "align": "left", "baseline": "middle", "fontSize": 6, "color": "#111111"},
                  "encoding": {
                    "x": {"field": "t", "type": "quantitative"},
                    "y": {"field": "surv", "type": "quantitative"},
                    "text": {"field": "label"}
                  }
                }
              ]
            },
            {
              "spacing": -18.5,
              "hconcat": [
                {"width": 1, "height": 12, "view": {"stroke": null}, "data": {"values": []}, "mark": "point", "encoding": {}},
                {
                  "width": 174, "height": 12,
                  "title": {"text": "Number at risk", "anchor": "start", "frame": "group", "fontSize": 6, "fontWeight": "normal", "offset": 1.5, "dx": 2},
                  "data": {"name": "riskF"},
                  "transform": [{"fold": ["Low-dose group", "High-dose group"], "as": ["group", "n"]}],
                  "mark": {"type": "text", "fontSize": 6},
                  "encoding": {
                    "x": {"field": "t", "type": "quantitative", "scale": {"domain": [-18.25, 383.25], "nice": false, "zero": false},
                          "axis": {"title": "Time (Days)", "titleFontSize": 4, "grid": false, "values": [0, 36.5, 73, 109.5, 146, 182.5, 219, 255.5, 292, 328.5, 365], "labelExpr": "format(datum.value, '~g')"}},
                    "y": {"field": "group", "type": "nominal", "sort": ["Low-dose group", "High-dose group"],
                          "axis": {"title": "Strata", "titleFontSize": 4.5, "grid": false, "labelFontSize": 3.3, "labelPadding": 0.5, "titlePadding": 1, "minExtent": 26, "maxExtent": 26,
                                   "labelColor": {"condition": {"test": "datum.value === 'Low-dose group'", "value": "#7E62C8"}, "value": "#E2392D"}}},
                    "text": {"field": "n", "type": "quantitative"},
                    "color": {"field": "group", "type": "nominal", "legend": null,
                              "scale": {"domain": ["Low-dose group", "High-dose group"], "range": ["#7E62C8", "#E2392D"]}}
                  }
                }
              ]
            }
          ]
        }
      ]
    }
  ]
}
